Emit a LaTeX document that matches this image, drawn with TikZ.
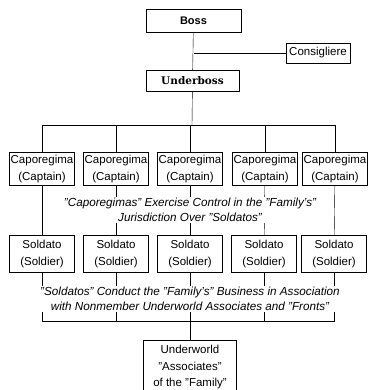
\documentclass[tikz,border=0pt]{standalone}
\usepackage{fontspec}
\setmainfont{Liberation Sans}
\newfontfamily\ubfont{DejaVu Serif}
\usepackage{tikz}

\begin{document}
\begin{tikzpicture}[x=1pt, y=-1pt, font=\fontsize{11.5}{16.5}\selectfont,
  box/.style={draw, inner sep=1pt, align=center, minimum width=65pt, minimum height=33pt},
  note/.style={fill=white, inner sep=1pt, align=center, font=\fontsize{11.7}{15.5}\selectfont\itshape}]
\useasboundingbox (0,0) rectangle (367,390);
\node[draw, minimum width=95pt, minimum height=23pt, font=\fontsize{11}{13}\selectfont\bfseries](b) at (193.5,20.5){Boss};
\node[draw, minimum width=63pt, minimum height=20pt](c) at (318,53){Consigliere};
\node[draw, minimum width=93pt, minimum height=21pt, font=\fontsize{10.5}{12}\ubfont\bfseries](u) at (192.5,80.5){Underboss};
\foreach \n/\x in {1/42,2/116,3/190,4/265,5/335}
  \node[box](k\n) at (\x,169){Caporegima\\(Captain)};
\foreach \n/\x in {1/42,2/116,3/190,4/264,5/334}
  \node[box, minimum height=37pt](s\n) at (\x,254){Soldato\\(Soldier)};
\node[draw, anchor=north, align=center, minimum width=93pt, minimum height=54pt](a) at (190,340){Underworld\\''Associates''\\of the ''Family''};
\coordinate (j1) at (192,125);
\coordinate (j2) at (190,321);
\draw (b) -- (u);
\draw (c) -- (c -| b);
\draw (u) -- (j1);
\foreach \n in {1,...,5}{
  \draw (k\n) |- (j1);
  \draw (k\n) -- (s\n);
  \draw (s\n) |- (j2);
}
\draw (j2) -- (a);
\node[note](t1) at (190,210){''Caporegimas'' Exercise Control in the ''Family's''\\Jurisdiction Over ''Soldatos''};
\node[note](t2) at (190,299){''Soldatos'' Conduct the ''Family's'' Business in Association\\with Nonmember Underworld Associates and ''Fronts''};
\end{tikzpicture}
\end{document}
